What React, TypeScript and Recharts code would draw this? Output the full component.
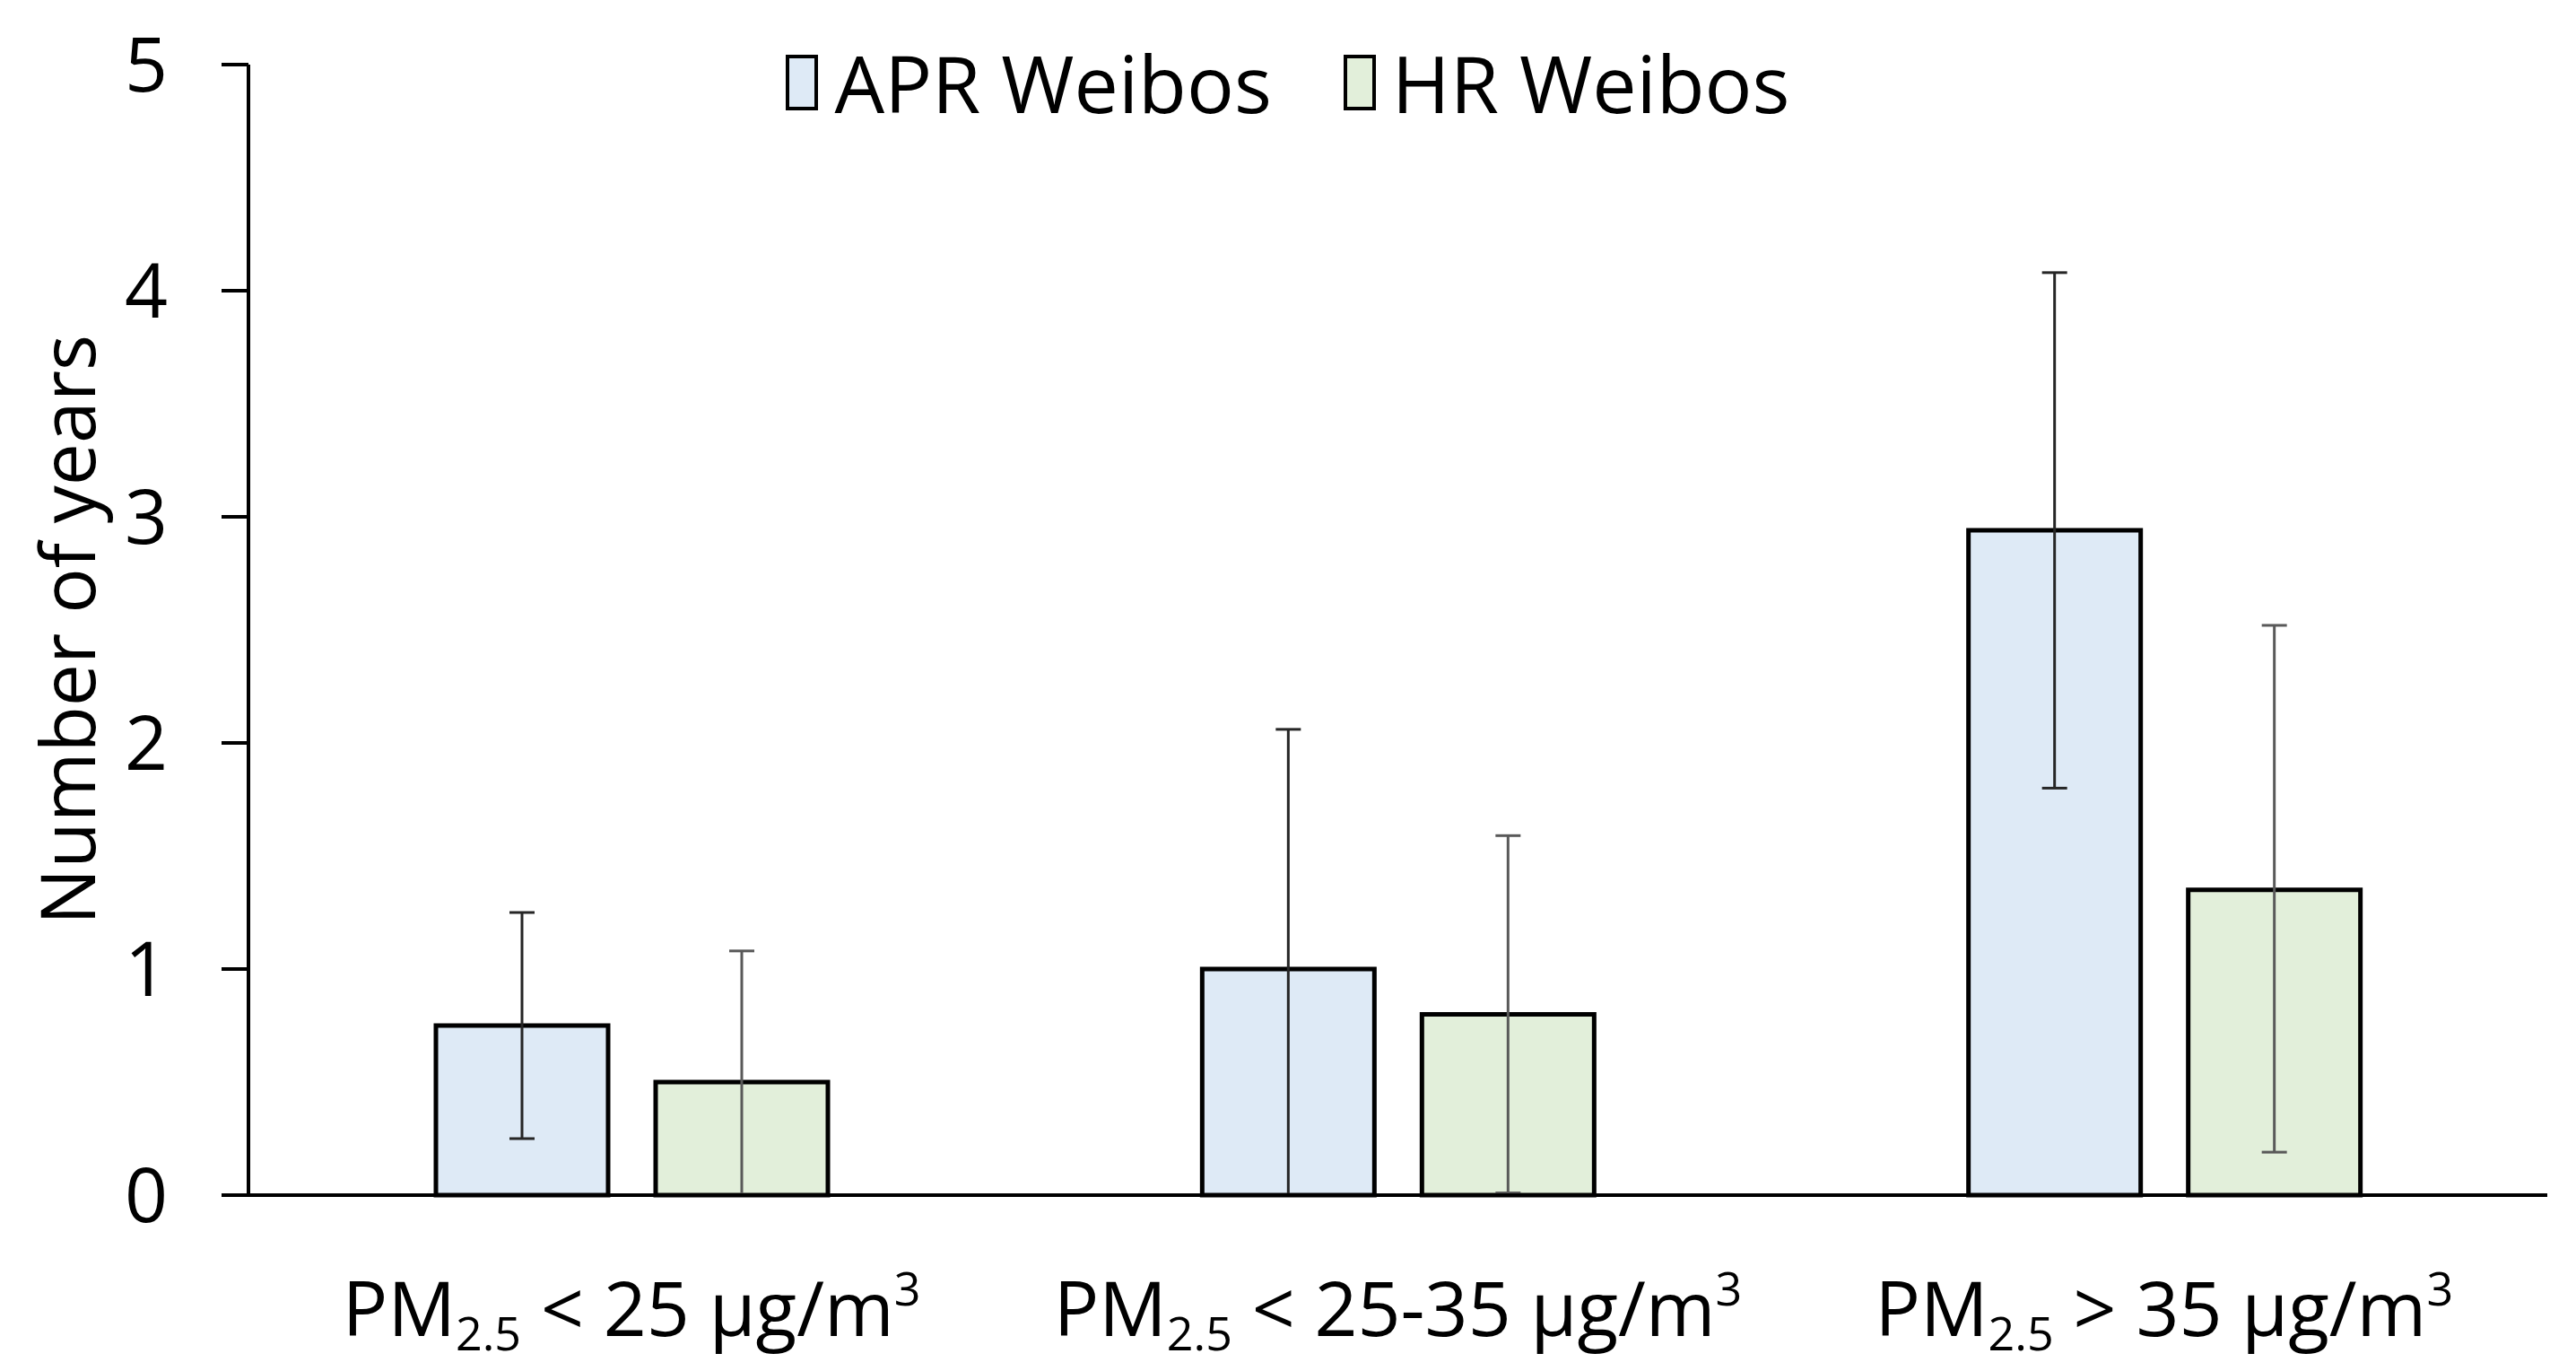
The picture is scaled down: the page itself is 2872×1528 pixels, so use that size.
import { BarChart, Bar, XAxis, YAxis, ErrorBar, Legend } from 'recharts';

const categories = ['< 25', '< 25-35', '> 35'];
const aprValues = [0.75, 1.0, 2.94];
const aprErrors = [[0.5, 0.5], [1.0, 1.06], [1.14, 1.14]];
const hrValues = [0.5, 0.8, 1.35];
const hrErrors = [[0.5, 0.58], [0.79, 0.79], [1.16, 1.17]];
const yTicks = [0, 1, 2, 3, 4, 5];

const data = categories.map((c, i) => ({
  name: c,
  apr: aprValues[i],
  aprErr: aprErrors[i],
  hr: hrValues[i],
  hrErr: hrErrors[i],
}));

const FONT = '"Open Sans", "Noto Sans", sans-serif';
const BLUE = '#DEEAF6';
const GREEN = '#E2EFDA';

const XTick = (props: any) => {
  const { x, y, payload } = props;
  return (
    <text x={x} y={y + 155} textAnchor="middle" fontSize={84} fontFamily={FONT} fill="#000">
      <tspan>PM</tspan>
      <tspan fontSize={52} dy={16}>2.5</tspan>
      <tspan dy={-16}>{' ' + payload.value + ' µg/m'}</tspan>
      <tspan fontSize={52} dy={-34}>3</tspan>
    </text>
  );
};

const YLabel = (props: any) => {
  const vb = props.viewBox || { x: 0, y: 72, width: 277, height: 1260 };
  const cy = vb.y + vb.height / 2;
  const cx = 73;
  return (
    <text
      x={cx}
      y={cy}
      transform={`rotate(-90 ${cx} ${cy})`}
      textAnchor="middle"
      dominantBaseline="central"
      fontSize={84}
      fontFamily={FONT}
      fill="#000"
    >
      Number of years
    </text>
  );
};

const LegendContent = () => {
  const items = [
    { label: 'APR Weibos', color: BLUE },
    { label: 'HR Weibos', color: GREEN },
  ];
  return (
    <div style={{ display: 'flex', justifyContent: 'center', alignItems: 'center', fontFamily: FONT, fontSize: 88, lineHeight: '100px' }}>
      {items.map((it, i) => (
        <div key={it.label} style={{ display: 'flex', alignItems: 'center', marginLeft: i ? 80 : 0 }}>
          <span style={{ display: 'inline-block', width: 28, height: 54, background: it.color, border: '4px solid #000', marginRight: 18 }} />
          <span style={{ color: '#000' }}>{it.label}</span>
        </div>
      ))}
    </div>
  );
};

export default function App() {
  return (
    <div style={{ position: 'absolute', left: 0, top: 0, width: 2872, height: 1528, background: '#fff' }}>
      <BarChart
        width={2872}
        height={1528}
        data={data}
        margin={{ top: 72, right: 32, left: 0, bottom: 0 }}
        barSize={192}
        barGap={53}
      >
        <XAxis
          dataKey="name"
          height={196}
          axisLine={{ stroke: '#000', strokeWidth: 4 }}
          tickLine={false}
          tickSize={0}
          tick={<XTick />}
          interval={0}
        />
        <YAxis
          width={277}
          domain={[0, 5]}
          ticks={yTicks}
          axisLine={{ stroke: '#000', strokeWidth: 4 }}
          tickLine={{ stroke: '#000', strokeWidth: 4 }}
          tickSize={30}
          tickMargin={60}
          tick={{ fill: '#000', fontSize: 84, fontFamily: FONT }}
          label={<YLabel />}
        />
        <Legend
          verticalAlign="middle"
          align="center"
          content={<LegendContent />}
          wrapperStyle={{ top: 42, left: 0, width: 2872 }}
        />
        <Bar dataKey="apr" name="APR Weibos" fill={BLUE} stroke="#000" strokeWidth={5} isAnimationActive={false}>
          <ErrorBar dataKey="aprErr" width={14} stroke="#262626" strokeWidth={3} direction="y" />
        </Bar>
        <Bar dataKey="hr" name="HR Weibos" fill={GREEN} stroke="#000" strokeWidth={5} isAnimationActive={false}>
          <ErrorBar dataKey="hrErr" width={14} stroke="#595959" strokeWidth={3} direction="y" />
        </Bar>
      </BarChart>
    </div>
  );
}
